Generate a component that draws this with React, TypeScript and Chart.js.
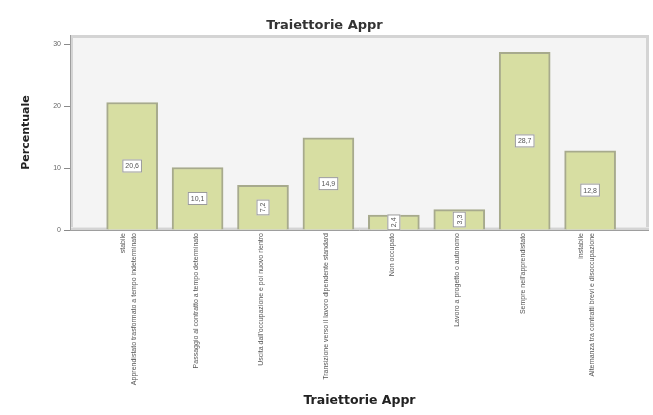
import { useEffect, useRef } from "react";
import { Chart, registerables } from "chart.js";

Chart.register(...registerables);

// Categorie (etichette asse X), valori percentuali e tacche dell'asse Y
const categories: (string | string[])[] = [
  ["stabile", "Apprendistato trasformato a tempo indeterminato"],
  "Passaggio al contratto a tempo determinato",
  "Uscita dall'occupazione e poi nuovo rientro",
  "Transizione verso il lavoro dipendente standard",
  "Non occupato",
  "Lavoro a progetto o autonomo",
  "Sempre nell'apprendistato",
  ["instabile", "Alternanza tra contratti brevi e disoccupazione"],
];
const percentages = [20.6, 10.1, 7.2, 14.9, 2.4, 3.3, 28.7, 12.8];
const yTicks = [0, 10, 20, 30];
const chartTitle = "Traiettorie Appr";
const xTitle = "Traiettorie Appr";
const yTitle = "Percentuale";

// barre la cui etichetta di valore è scritta in verticale
const verticalValueLabels = [2, 4, 5];

const LABEL_FONT = "'Liberation Sans', Arial, sans-serif";
const TITLE_FONT = "'DejaVu Sans', Verdana, sans-serif";

export default function App() {
  const ref = useRef<HTMLCanvasElement>(null);

  useEffect(() => {
    const plotFrame = {
      id: "plotFrame",
      beforeDraw(chart: any) {
        const { ctx, chartArea: a } = chart;
        ctx.save();
        ctx.fillStyle = "#f4f4f4";
        ctx.fillRect(a.left, a.top, a.right - a.left, a.bottom - a.top);
        ctx.restore();
      },
      beforeDatasetsDraw(chart: any) {
        const { ctx, chartArea: a } = chart;
        ctx.save();
        ctx.strokeStyle = "#d4d4d4";
        ctx.lineWidth = 3;
        ctx.strokeRect(a.left + 1.5, a.top + 1.5, a.right - a.left - 3, a.bottom - a.top - 3);
        ctx.strokeStyle = "#e6e6e6";
        ctx.lineWidth = 1;
        ctx.beginPath();
        ctx.moveTo(a.left, a.bottom - 2.5);
        ctx.lineTo(a.right, a.bottom - 2.5);
        ctx.stroke();
        ctx.strokeStyle = "#9e9e9e";
        ctx.beginPath();
        ctx.moveTo(a.left + 0.5, a.top);
        ctx.lineTo(a.left + 0.5, a.bottom);
        ctx.moveTo(a.left, a.bottom + 0.5);
        ctx.lineTo(a.right, a.bottom + 0.5);
        ctx.stroke();
        ctx.restore();
      },
    };

    const valueBoxes = {
      id: "valueBoxes",
      afterDatasetsDraw(chart: any) {
        const { ctx } = chart;
        const meta = chart.getDatasetMeta(0);
        ctx.save();
        ctx.font = `7px ${LABEL_FONT}`;
        ctx.textAlign = "center";
        ctx.textBaseline = "middle";
        meta.data.forEach((bar: any, i: number) => {
          const text = percentages[i].toFixed(1).replace(".", ",");
          const cx = bar.x;
          const cy = (bar.y + bar.base) / 2;
          const tw = ctx.measureText(text).width;
          const w = tw + 6;
          const h = 13;
          ctx.save();
          ctx.translate(cx, cy);
          if (verticalValueLabels.includes(i)) ctx.rotate(-Math.PI / 2);
          ctx.fillStyle = "#ffffff";
          ctx.fillRect(-w / 2, -h / 2, w, h);
          ctx.strokeStyle = "#9a9a9a";
          ctx.lineWidth = 1;
          ctx.strokeRect(-w / 2 + 0.5, -h / 2 + 0.5, w - 1, h - 1);
          ctx.fillStyle = "#555555";
          ctx.fillText(text, 0, 0.5);
          ctx.restore();
        });
        ctx.restore();
      },
    };

    const chart = new Chart(ref.current!, {
      type: "bar",
      data: {
        datasets: [
          {
            data: percentages.map((v, i) => ({ x: i + 1, y: v })),
            backgroundColor: "#d7dea2",
            borderColor: "#a7aa8d",
            borderWidth: 2,
            barThickness: 51,
          },
        ],
      },
      options: {
        animation: false,
        responsive: true,
        maintainAspectRatio: false,
        layout: { padding: { left: 0, right: 4, top: 0, bottom: 0 } },
        plugins: {
          legend: { display: false },
          tooltip: { enabled: false },
          title: {
            display: true,
            text: chartTitle,
            color: "#333333",
            font: { family: TITLE_FONT, size: 13, weight: "bold" },
            padding: { top: 18, bottom: 1.4 },
          },
        },
        scales: {
          x: {
            type: "linear",
            min: 0.05,
            max: 8.9,
            offset: false,
            grid: { display: false, drawTicks: false, offset: false },
            border: { display: false },
            // le etichette su due righe sono centrate tra le due righe
            afterBuildTicks: (s: any) => {
              s.ticks = categories.map((c, i) => ({
                value: i + 1 - (Array.isArray(c) ? 0.115 : 0),
              }));
            },
            afterFit: (s: any) => {
              s.height = 185;
            },
            ticks: {
              autoSkip: false,
              minRotation: 90,
              maxRotation: 90,
              padding: 3,
              labelOffset: -2,
              color: "#555555",
              font: { family: LABEL_FONT, size: 7, lineHeight: 1.7 },
              callback: (v: any) => categories[Math.round(v) - 1] ?? "",
            },
            title: {
              display: true,
              text: xTitle,
              color: "#222222",
              font: { family: TITLE_FONT, size: 12.5, weight: "bold" },
              padding: { top: 4, bottom: 7 },
            },
          },
          y: {
            min: 0,
            max: 31.5,
            afterBuildTicks: (s: any) => {
              s.ticks = yTicks.map((v) => ({ value: v }));
            },
            afterFit: (s: any) => {
              s.width = 70;
            },
            grid: {
              drawOnChartArea: false,
              drawTicks: true,
              tickLength: 6,
              color: "#8a8a8a",
            },
            border: { display: false },
            ticks: {
              padding: 3,
              color: "#666666",
              font: { family: LABEL_FONT, size: 7 },
            },
            title: {
              display: true,
              text: yTitle,
              color: "#222222",
              font: { family: TITLE_FONT, size: 11, weight: "bold" },
              padding: { top: 20, bottom: 0 },
            },
          },
        },
      },
      plugins: [plotFrame, valueBoxes],
    });

    return () => chart.destroy();
  }, []);

  return (
    <div
      style={{
        position: "fixed",
        left: 0,
        top: 0,
        width: 653,
        height: 415,
        background: "#ffffff",
      }}
    >
      <canvas ref={ref} />
    </div>
  );
}
